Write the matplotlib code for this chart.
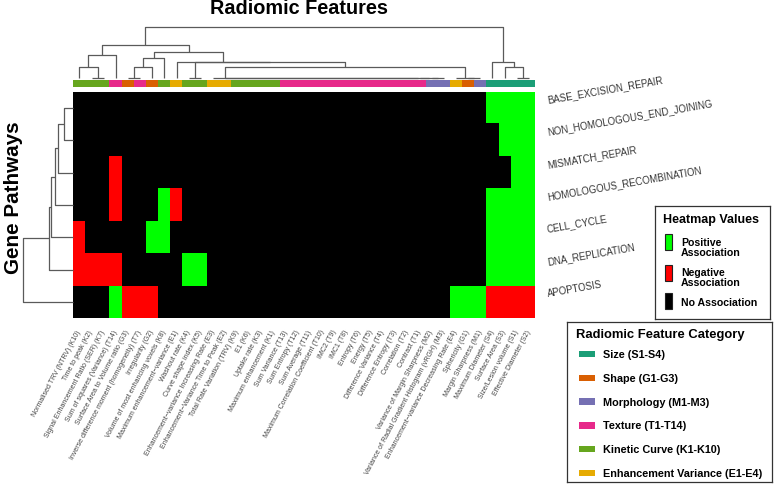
import numpy as np
import matplotlib
matplotlib.use('Agg')
import matplotlib.pyplot as plt
from matplotlib.colors import ListedColormap
from matplotlib.patches import Rectangle

plt.rcParams['font.family'] = ['Liberation Sans', 'DejaVu Sans']

W, H = 776, 489

features = [
    'Normalised TRV (NTRV) (K10)', 'Time to peak (K2)', 'Signal Enhancement Ratio (SER) (K7)',
    'Sum of squares (Variance) (T14)', 'Surface Area to Volume ratio (G3)',
    'Inverse difference moment (homogeneity) (T7)', 'Irregularity (G2)',
    'Volume of most enhancing voxels (K8)', 'Maximum enhancement\u2212variance (E1)',
    'Washout rate (K4)', 'Curve shape index (K5)', 'Enhancement\u2212variance Increasing Rate (E3)',
    'Enhancement\u2212Variance Time to Peak (E2)', 'Total Rate Variation (TRV) (K9)', 'E1 (K6)',
    'Uptake rate (K3)', 'Maximum enhancement (K1)', 'Sum Variance (T13)', 'Sum Entropy (T12)',
    'Sum Average (T11)', 'Maximum Correlation Coefficient (T10)', 'IMC2 (T9)', 'IMC1 (T8)',
    'Entropy (T6)', 'Energy (T5)', 'Difference Variance (T4)', 'Difference Entropy (T3)',
    'Correlation (T2)', 'Contrast (T1)', 'Variance of Margin Sharpness (M2)',
    'Variance of Radial Gradient Histogram (vRGH) (M3)',
    'Enhancement\u2212variance Decreasing Rate (E4)', 'Sphericity (G1)', 'Margin Sharpness (M1)',
    'Maximum Diameter (S4)', 'Surface Area (S3)', 'Size/Lesion volume (S1)', 'Effective Diameter (S2)',
]

pathways = ['BASE_EXCISION_REPAIR', 'NON_HOMOLOGOUS_END_JOINING', 'MISMATCH_REPAIR',
            'HOMOLOGOUS_RECOMBINATION', 'CELL_CYCLE', 'DNA_REPLICATION', 'APOPTOSIS']

# 1 = positive, -1 = negative, 0 = no association
base_excision_repair = [0, 0, 0, 0, 0, 0, 0, 0, 0, 0, 0, 0, 0, 0, 0, 0, 0, 0, 0, 0,
                        0, 0, 0, 0, 0, 0, 0, 0, 0, 0, 0, 0, 0, 0, 1, 1, 1, 1]
non_homologous_end_joining = [0, 0, 0, 0, 0, 0, 0, 0, 0, 0, 0, 0, 0, 0, 0, 0, 0, 0, 0, 0,
                              0, 0, 0, 0, 0, 0, 0, 0, 0, 0, 0, 0, 0, 0, 0, 1, 1, 1]
mismatch_repair = [0, 0, 0, -1, 0, 0, 0, 0, 0, 0, 0, 0, 0, 0, 0, 0, 0, 0, 0, 0,
                   0, 0, 0, 0, 0, 0, 0, 0, 0, 0, 0, 0, 0, 0, 0, 0, 1, 1]
homologous_recombination = [0, 0, 0, -1, 0, 0, 0, 1, -1, 0, 0, 0, 0, 0, 0, 0, 0, 0, 0, 0,
                            0, 0, 0, 0, 0, 0, 0, 0, 0, 0, 0, 0, 0, 0, 1, 1, 1, 1]
cell_cycle = [-1, 0, 0, 0, 0, 0, 1, 1, 0, 0, 0, 0, 0, 0, 0, 0, 0, 0, 0, 0,
              0, 0, 0, 0, 0, 0, 0, 0, 0, 0, 0, 0, 0, 0, 1, 1, 1, 1]
dna_replication = [-1, -1, -1, -1, 0, 0, 0, 0, 0, 1, 1, 0, 0, 0, 0, 0, 0, 0, 0, 0,
                   0, 0, 0, 0, 0, 0, 0, 0, 0, 0, 0, 0, 0, 0, 1, 1, 1, 1]
apoptosis = [0, 0, 0, 1, -1, -1, -1, 0, 0, 0, 0, 0, 0, 0, 0, 0, 0, 0, 0, 0,
             0, 0, 0, 0, 0, 0, 0, 0, 0, 0, 0, 1, 1, 1, -1, -1, -1, -1]

value_labels = ['Positive\nAssociation', 'Negative\nAssociation', 'No Association']
value_colors = ['#00ff00', '#ff0000', '#000000']

category_order = ['S', 'G', 'M', 'T', 'K', 'E']
category_names = ['Size (S1-S4)', 'Shape (G1-G3)', 'Morphology (M1-M3)',
                  'Texture (T1-T14)', 'Kinetic Curve (K1-K10)', 'Enhancement Variance (E1-E4)']
category_colors = ['#1b9e77', '#d95f02', '#7570b3', '#e7298a', '#66a61e', '#e6ab02']

data = np.array([base_excision_repair, non_homologous_end_joining, mismatch_repair,
                 homologous_recombination, cell_cycle, dna_replication, apoptosis])
nrow, ncol = data.shape
cat_color = dict(zip(category_order, category_colors))
cats = [f.rsplit('(', 1)[1][0] for f in features]

# dendrogram structures (leaf indices in display order); heights = complete linkage
zero_chain = 30
for c in range(29, 10, -1):
    zero_chain = (c, zero_chain)
col_tree = ((((0, (1, 2)), 3),
             ((((4, 5), 6), 7), (8, ((9, 10), (zero_chain, (31, (32, 33))))))),
            (34, (35, (36, 37))))
row_tree = ((((((0, 1), 2), 3), 4), 5), 6)

LINE = '#5a5a5a'


def draw_tree(ax, node, vecs, orient):
    if isinstance(node, int):
        return node + 0.5, 0.0, [node]
    l, r = node
    pl, hl, ml = draw_tree(ax, l, vecs, orient)
    pr, hr, mr = draw_tree(ax, r, vecs, orient)
    h = max(np.linalg.norm(vecs[i] - vecs[j]) for i in ml for j in mr)
    pos = [pl, pl, pr, pr]
    hts = [hl, h, h, hr]
    if orient == 'top':
        ax.plot(pos, hts, color=LINE, lw=0.9, clip_on=False, solid_capstyle='butt')
    else:
        ax.plot(hts, pos, color=LINE, lw=0.9, clip_on=False, solid_capstyle='butt')
    return (pl + pr) / 2, h, ml + mr


fig = plt.figure(figsize=(W / 100, H / 100), dpi=100)


def px_axes(x0, y0, x1, y1):
    """axes placed in figure pixel coords, data coords in pixels (y down)"""
    a = fig.add_axes([x0 / W, 1 - y1 / H, (x1 - x0) / W, (y1 - y0) / H])
    a.set_xlim(x0, x1)
    a.set_ylim(y1, y0)
    return a


hm_l, hm_r, hm_t, hm_b = 73.3, 535, 92.7, 319
ax = fig.add_axes([hm_l / W, 1 - hm_b / H, (hm_r - hm_l) / W, (hm_b - hm_t) / H])
cmap = ListedColormap(['#ff0000', '#000000', '#00ff00'])
ax.imshow(data, cmap=cmap, vmin=-1.5, vmax=1.5, aspect='auto',
          extent=(0, ncol, nrow, 0), interpolation='nearest')
ax.set_xlim(0, ncol)
ax.set_ylim(nrow, 0)
for s in ax.spines.values():
    s.set_visible(False)
ax.set_yticks([])
ax.set_xticks(np.arange(ncol) + 0.5)
ax.set_xticklabels(features, rotation=62, ha='right', va='center',
                   rotation_mode='anchor', fontsize=5.0, color='#444444')
ax.tick_params(axis='x', length=0, pad=8.5)
for i, p in enumerate(pathways):
    ax.text(ncol + 1.0, i + 0.5 - 0.27, p, rotation=10, rotation_mode='anchor',
            ha='left', va='center', fontsize=6.9, color='#333333', clip_on=False)

# category color bar
axc = fig.add_axes([hm_l / W, 1 - 87.7 / H, (hm_r - hm_l) / W, 6.4 / H])
axc.imshow(np.arange(ncol)[None, :], aspect='auto', extent=(0, ncol, 1, 0),
           cmap=ListedColormap([cat_color[c] for c in cats]),
           vmin=-0.5, vmax=ncol - 0.5, interpolation='nearest')
axc.set_axis_off()

# top dendrogram
axt = fig.add_axes([hm_l / W, 1 - 79.3 / H, (hm_r - hm_l) / W, (79.3 - 28) / H])
_, root_h, _ = draw_tree(axt, col_tree, data.T.astype(float), 'top')
axt.set_xlim(0, ncol)
axt.set_ylim(0, root_h)
axt.set_axis_off()

# left dendrogram
axl = fig.add_axes([22.7 / W, 1 - hm_b / H, (hm_l - 22.7) / W, (hm_b - hm_t) / H])
_, rroot_h, _ = draw_tree(axl, row_tree, data.astype(float), 'left')
axl.set_xlim(rroot_h, 0)
axl.set_ylim(nrow, 0)
axl.set_axis_off()

fig.text(299 / W, 1 - 9 / H, 'Radiomic Features', ha='center', va='center',
         fontsize=14.3, fontweight='bold')
fig.text(14 / W, 1 - 198 / H, 'Gene Pathways', ha='center', va='center', rotation=90,
         fontsize=14.9, fontweight='bold')


def frame(a):
    a.set_xticks([])
    a.set_yticks([])
    for s in a.spines.values():
        s.set_color('#333333')
        s.set_linewidth(0.9)


# legend: heatmap values
lg1 = px_axes(655, 207, 770, 320)
frame(lg1)
lg1.text(663, 220, 'Heatmap Values', ha='left', va='center', fontsize=9, fontweight='bold')
sw_tops = [235, 266, 294]
lab_y = [247.8, 278, 303]
for top, ly, lab, col in zip(sw_tops, lab_y, value_labels, value_colors):
    lg1.add_patch(Rectangle((665, top), 7, 16, facecolor=col, edgecolor='#222222', lw=0.8))
    lg1.text(681, ly, lab, ha='left', va='center', fontsize=7.6, fontweight='bold',
             linespacing=1.05)

# legend: radiomic feature category
lg2 = px_axes(567, 323, 772, 483)
frame(lg2)
lg2.text(576, 335, 'Radiomic Feature Category', ha='left', va='center', fontsize=9.4,
         fontweight='bold')
for i, (name, col) in enumerate(zip(category_names, category_colors)):
    yc = 355 + 23.8 * i
    lg2.add_patch(Rectangle((579, yc - 3.2), 16, 6.4, facecolor=col, edgecolor='none'))
    lg2.text(603, yc, name, ha='left', va='center', fontsize=7.8, fontweight='bold')

fig.savefig('out.png', dpi=100)
